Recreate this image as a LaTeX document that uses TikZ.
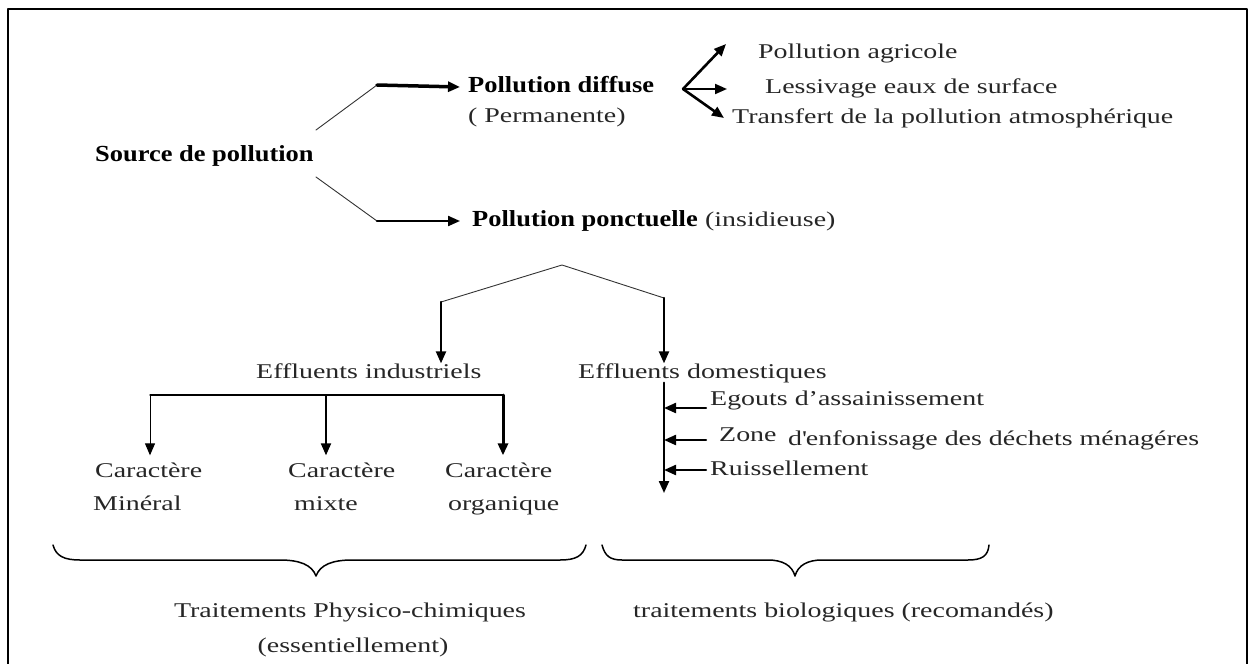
\documentclass[tikz,border=0pt]{standalone}
\usepackage{fontspec}
\setmainfont{Liberation Serif}[FakeStretch=1.33]
\newfontfamily\boldfam{Liberation Serif}[FakeStretch=1.15]
\usetikzlibrary{arrows.meta,positioning}

\begin{document}
\begin{tikzpicture}[line cap=round,line join=round,>={Triangle[length=12pt,width=10pt]},x=1pt,y=-1pt,
	txt/.style={inner sep=0pt,anchor=west,text=black!85,font=\fontsize{21}{25}\selectfont,text height=14.7pt,text depth=4.2pt},
	head/.style={txt,text=black,font=\boldfam\bfseries\fontsize{23}{27}\selectfont,text height=16pt,text depth=4.6pt},
	trait/.style={line width=0.9pt,black!80},
	accolade/.style={line width=1.5pt}]
	\useasboundingbox (0,0) rectangle (1251,664);
	\clip (0,0) rectangle (1251,664);
	\draw [line width=2pt] (8,680) -- (8,9) -- (1247,9) -- (1247,680);
	\node[head] (source) at (95,156) {Source de pollution};
	\node[head] (diffuse) at (468,87) {Pollution diffuse};
	\node[txt] (permanente) at (468,117) {( Permanente)};
	\node[head] (ponctuelle) at (472,221) {Pollution ponctuelle};
	\node[txt,right=7pt of ponctuelle] (insidieuse) {(insidieuse)};
	\node[txt] (agricole) at (758,53) {Pollution agricole};
	\node[txt] (lessivage) at (765,88) {Lessivage eaux de surface};
	\node[txt] (transfert) at (732,118) {Transfert de la pollution atmosphérique};
	\node[txt] (industriels) at (256,373) {Effluents industriels};
	\node[txt] (domestiques) at (578,373) {Effluents domestiques};
	\node[txt] (egouts) at (710,400) {Egouts d’assainissement};
	\node[txt] (zone) at (719,436) {Zone};
	\node[txt] (enfouis) at (788,440) {d\textquotesingle enfonissage des déchets ménagéres};
	\node[txt] (ruissel) at (710,470) {Ruissellement};
	\node[txt] (mineral1) at (95,472) {Caractère};
	\node[txt] (mineral2) at (93,505) {Minéral};
	\node[txt] (mixte1) at (288,472) {Caractère};
	\node[txt] (mixte2) at (294,505) {mixte};
	\node[txt] (organ1) at (445,472) {Caractère};
	\node[txt] (organ2) at (448,505) {organique};
	\node[txt,anchor=center] (physico) at (350,612) {Traitements Physico-chimiques};
	\node[txt,anchor=center] (essentiel) at (353,647) {(essentiellement)};
	\node[txt] (biolog) at (633,612) {traitements biologiques (recomandés)};
	\coordinate (su) at (316,130);
	\coordinate (sd) at (316,177);
	\coordinate (ku) at (377,85);
	\coordinate (kd) at (377,221);
	\coordinate (fourche) at (683,89);
	\coordinate (fa) at (726,44);
	\coordinate (fl) at (727,89);
	\coordinate (ft) at (724,118);
	\coordinate (sommet) at (562,265);
	\coordinate (tg) at (441,302);
	\coordinate (td) at (664,298);
	\coordinate (k1) at (150,395);
	\coordinate (k2) at (326,395);
	\coordinate (k3) at (503,395);
	\coordinate (dbas) at (664,493);
	\coordinate (e1) at (706,408);
	\coordinate (e2) at (706,440);
	\coordinate (e3) at (706,470);
	\draw[trait] (su) -- (ku);
	\draw[->,line width=3.5pt] (ku) -- ([xshift=-8pt]diffuse.west);
	\draw[trait] (sd) -- (kd);
	\draw[->,line width=2.2pt] (kd) -- ([xshift=-12pt]ponctuelle.west);
	\draw[->,line width=2.6pt] (fourche) -- (fa);
	\draw[->,line width=2pt] (fourche) -- (fl);
	\draw[->,line width=2.6pt] (fourche) -- (ft);
	\draw[trait] (tg) -- (sommet) -- (td);
	\draw[->,line width=2.2pt] (tg) -- (tg |- industriels.north);
	\draw[->,line width=2.2pt] (td) -- (td |- domestiques.north);
	\draw[->,line width=2.2pt] (td |- domestiques.south) -- (dbas);
	\draw[->,line width=2.2pt] (e1) -- (e1 -| dbas);
	\draw[->,line width=2.2pt] (e2) -- (e2 -| dbas);
	\draw[->,line width=2.2pt] (e3) -- (e3 -| dbas);
	\draw[line width=1.2pt] (k1) -- (k3);
	\draw[->,line width=1pt] (k1) -- ([yshift=7pt]k1 |- mineral1.north);
	\draw[->,line width=2pt] (k2) -- ([yshift=7pt]k2 |- mixte1.north);
	\draw[->,line width=3pt] (k3) -- ([yshift=7pt]k3 |- organ1.north);
	\draw[accolade] (53,545) .. controls (56,556) and (64,560) .. (80,560) -- (280,560) .. controls (300,560) and (312,565) .. (316,576) .. controls (320,565) and (332,560) .. (352,560) -- (560,560) .. controls (576,560) and (583,556) .. (586,545);
	\draw[accolade] (602,545) .. controls (605,556) and (610,560) .. (622,560) -- (768,560) .. controls (782,560) and (792,565) .. (795,576) .. controls (798,565) and (808,560) .. (822,560) -- (968,560) .. controls (982,560) and (988,556) .. (989,545);
\end{tikzpicture}
\end{document}
